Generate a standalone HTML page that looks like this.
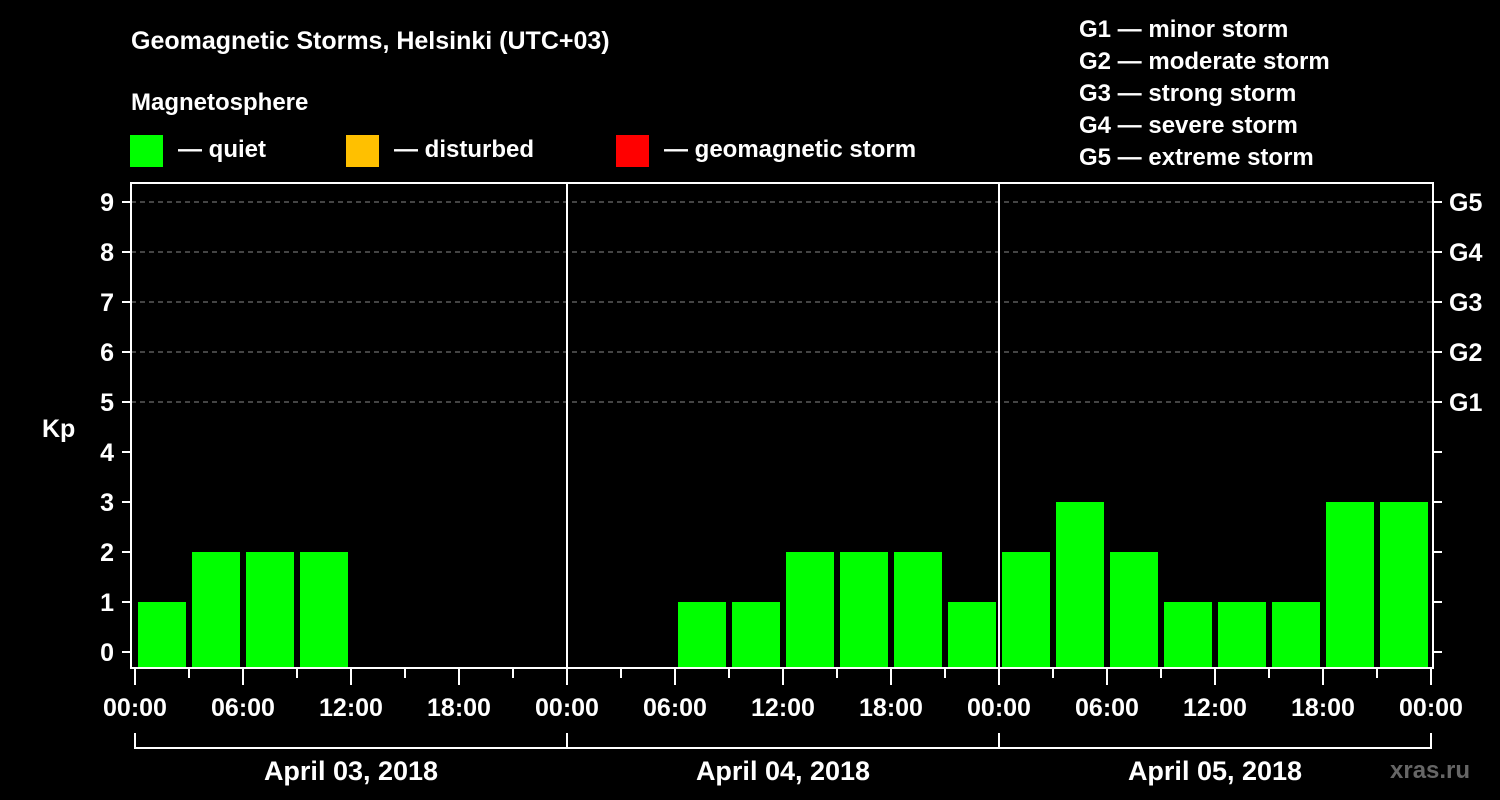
<!DOCTYPE html>
<html><head><meta charset="utf-8"><style>
html,body{margin:0;padding:0;background:#000;}
svg{display:block;font-family:"Liberation Sans",Arial,sans-serif;font-weight:bold;}
</style></head><body>
<svg id="c" width="1500" height="800" viewBox="0 0 1500 800">
<rect width="1500" height="800" fill="#000"/>
<text x="131" y="49" fill="#fff" font-size="25">Geomagnetic Storms, Helsinki (UTC+03)</text>
<text x="131" y="110" fill="#fff" font-size="24">Magnetosphere</text>
<g><rect x="130" y="135" width="33" height="32" fill="#00ff00"/><text x="178" y="157" fill="#fff" font-size="24">— quiet</text></g>
<g><rect x="346" y="135" width="33" height="32" fill="#ffc000"/><text x="394" y="157" fill="#fff" font-size="24">— disturbed</text></g>
<g><rect x="616" y="135" width="33" height="32" fill="#ff0000"/><text x="664" y="157" fill="#fff" font-size="24">— geomagnetic storm</text></g>
<g fill="#fff" font-size="24">
<text x="1079" y="37">G1 — minor storm</text>
<text x="1079" y="69">G2 — moderate storm</text>
<text x="1079" y="101">G3 — strong storm</text>
<text x="1079" y="133">G4 — severe storm</text>
<text x="1079" y="165">G5 — extreme storm</text>
</g>
<text x="42" y="437" fill="#fff" font-size="25">Kp</text>
<text x="1390" y="778" fill="#666" font-size="24">xras.ru</text>
<g id="grid"></g><g id="bars"></g><g id="axes"></g>
</svg>
<script>
const days = ["April 03, 2018","April 04, 2018","April 05, 2018"];
const kpValues = [1,2,2,2,null,null,null,null, null,null,1,1,2,2,2,1, 2,3,2,1,1,1,3,3];
const yTicks = [0,1,2,3,4,5,6,7,8,9];
const gLabels = ["G1","G2","G3","G4","G5"];
const hourLabels = ["00:00","06:00","12:00","18:00"];

const NS="http://www.w3.org/2000/svg";
const X0=135, DAY=432, SLOT=DAY/8, Y0=652, UNIT=50, TOP=183, BOT=668;
const xs = h => X0 + h/24*DAY;  // hours since start
const ys = v => Y0 - v*UNIT;
function mk(tag, attrs, parent){const e=document.createElementNS(NS,tag);for(const k in attrs)e.setAttribute(k,attrs[k]);parent.appendChild(e);return e;}
const grid=document.getElementById('grid'), bars=document.getElementById('bars'), axes=document.getElementById('axes');

yTicks.forEach(v=>{
  if(v>=5){const l=mk('line',{x1:131,x2:1433,y1:ys(v),y2:ys(v),stroke:'#888','stroke-dasharray':'5,4','stroke-width':1},grid);
  
  }
  const t=mk('line',{x1:122,x2:131,y1:ys(v),y2:ys(v),stroke:'#fff','stroke-width':2},axes);
  
  
  const r=mk('line',{x1:1433,x2:1442,y1:ys(v),y2:ys(v),stroke:'#fff','stroke-width':2},axes);
  
  
  const lab=mk('text',{x:114,y:ys(v)+9,fill:'#fff','font-size':25,'text-anchor':'end'},axes);
  lab.textContent=v;
  
  
});
gLabels.forEach((g,i)=>{
  const lab=mk('text',{x:1449,y:ys(5+i)+9,fill:'#fff','font-size':25},axes);
  lab.textContent=g;
  
  
});

kpValues.forEach((v,i)=>{
  if(v===null)return;
  const x=xs(i*3)+3, w=SLOT-6;
  const col=v>=5?'#ff0000':(v>=4?'#ffc000':'#00ff00');
  const b=mk('rect',{x:x,y:ys(v),width:w,height:BOT-1-ys(v),fill:col},bars);
  
  
});

const fr=mk('rect',{x:131,y:183,width:1302,height:485,fill:'none',stroke:'#fff','stroke-width':2},axes);


for(let d=1;d<days.length;d++){
  const l=mk('line',{x1:xs(d*24),x2:xs(d*24),y1:TOP,y2:BOT,stroke:'#fff','stroke-width':2},axes);
  
  
}
for(let h=0;h<=days.length*24;h+=3){
  const major=h%6===0;
  const t=mk('line',{x1:xs(h),x2:xs(h),y1:BOT,y2:major?685:678,stroke:'#fff','stroke-width':2},axes);
  
  
  if(major && (h%24===0 || true)){
    const lab=mk('text',{x:xs(h),y:716,fill:'#fff','font-size':25,'text-anchor':'middle'},axes);
    lab.textContent=hourLabels[(h%24)/6];
    
    
  }
}
const bp=mk('path',{d:`M${xs(0)} 733 V748 H${xs(days.length*24)} V733`,fill:'none',stroke:'#fff','stroke-width':2},axes);


days.forEach((d,i)=>{
  if(i>0){const l=mk('line',{x1:xs(i*24),x2:xs(i*24),y1:733,y2:748,stroke:'#fff','stroke-width':2},axes);
  
  }
  const t=mk('text',{x:xs(i*24+12),y:780,fill:'#fff','font-size':27,'text-anchor':'middle'},axes);
  t.textContent=d;
  
  
});
</script>
</body></html>
